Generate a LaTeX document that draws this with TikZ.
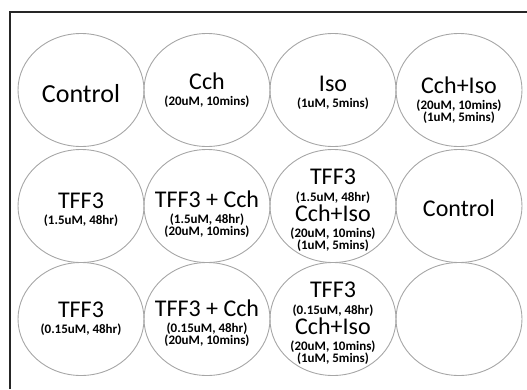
\documentclass[tikz,border=0pt]{standalone}
\usepackage{fontspec}
\setmainfont{Carlito}
\usetikzlibrary{shapes.geometric}
\newcommand{\dose}[1]{{\fontsize{13}{12}\selectfont\bfseries #1}}

\begin{document}
\begin{tikzpicture}[x=1pt,y=-1pt,
  well/.style={ellipse,draw=gray!70,line width=0.9pt,minimum width=126pt,minimum height=113pt,inner sep=0pt},
  lab/.style={align=center,inner sep=0pt,font=\fontsize{24}{24}\selectfont}]
\useasboundingbox (0,0) rectangle (527,389);
% --- frame (cut by the page at right and bottom) ---
\coordinate (fbl) at (10,389);
\coordinate (ftr) at (527,12);
\draw[line width=1.2pt,black!85] (fbl) |- (ftr);
% --- wells ---
\foreach \r/\y in {1/90,2/206,3/319}{
  \foreach \c/\x in {1/81,2/207,3/333,4/459}{
    \node[well] (w\r\c) at (\x,\y) {};}}
% --- row 1 ---
\node[lab,font=\fontsize{26}{26}\selectfont] (t11) at ([yshift=-4pt]w11.center) {Control};
\node[lab] (t12) at (w12.center) {Cch\\[-8pt]\dose{(20uM, 10mins)}};
\node[lab] (t13) at ([yshift=-3pt]w13.center) {Iso\\[-8pt]\dose{(1uM, 5mins)}};
\node[lab] (t14) at ([yshift=-10pt]w14.center) {Cch+Iso\\[-8pt]\dose{(20uM, 10mins)}\\[-12pt]\dose{(1uM, 5mins)}};
% --- row 2 ---
\node[lab] (t21) at ([yshift=-4pt]w21.center) {TFF3\\[-8pt]\dose{(1.5uM, 48hr)}};
\node[lab] (t22) at ([yshift=-8pt]w22.center) {TFF3 + Cch\\[-8pt]\dose{(1.5uM, 48hr)}\\[-12pt]\dose{(20uM, 10mins)}};
\node[lab] (t23) at ([yshift=-4pt]w23.center) {TFF3\\[-7pt]\dose{(1.5uM, 48hr)}\\[-4pt]Cch+Iso\\[-8pt]\dose{(20uM, 10mins)}\\[-12pt]\dose{(1uM, 5mins)}};
\node[lab] (t24) at ([yshift=-2pt]w24.center) {Control};
% --- row 3 ---
\node[lab] (t31) at (w31.center) {TFF3\\[-8pt]\dose{(0.15uM, 48hr)}};
\node[lab] (t32) at ([yshift=-4pt]w32.center) {TFF3 + Cch\\[-8pt]\dose{(0.15uM, 48hr)}\\[-12pt]\dose{(20uM, 10mins)}};
\node[lab] (t33) at ([yshift=-4pt]w33.center) {TFF3\\[-7pt]\dose{(0.15uM, 48hr)}\\[-4pt]Cch+Iso\\[-8pt]\dose{(20uM, 10mins)}\\[-12pt]\dose{(1uM, 5mins)}};
\end{tikzpicture}
\end{document}
